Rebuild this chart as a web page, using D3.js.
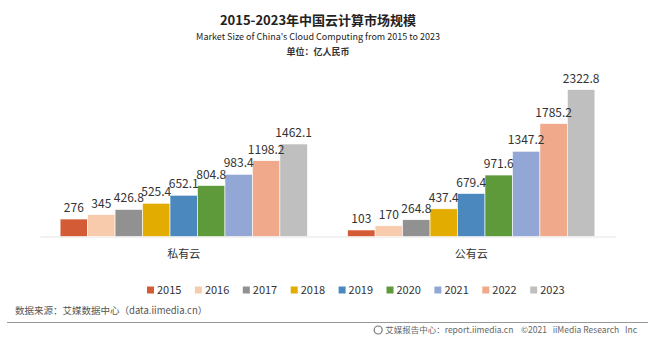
<!DOCTYPE html>
<html>
<head>
<meta charset="utf-8">
<script src="https://cdn.jsdelivr.net/npm/d3@7"></script>
<style>
  body { margin: 0; background: #fff; }
  svg { display: block; font-family: "Noto Sans CJK SC", "Noto Sans", sans-serif; }
</style>
</head>
<body>
<div id="chart"></div>
<script>
// chart data
var categories = ["私有云", "公有云"];
var years = ["2015", "2016", "2017", "2018", "2019", "2020", "2021", "2022", "2023"];
var privateCloud = [276, 345, 426.8, 525.4, 652.1, 804.8, 983.4, 1198.2, 1462.1];
var publicCloud = [103, 170, 264.8, 437.4, 679.4, 971.6, 1347.2, 1785.2, 2322.8];
var yearColors = ["#d35b35", "#f8cbad", "#919191", "#e2ac00", "#4a88be", "#5f9a3a", "#93a7d6", "#f0a98a", "#bfbfbf"];

var seriesByCat = { "私有云": privateCloud, "公有云": publicCloud };

var width = 651, height = 339;
var svg = d3.select("#chart").append("svg").attr("width", width).attr("height", height);

// titles
svg.append("text").attr("x", 318).attr("y", 25).attr("text-anchor", "middle")
  .attr("font-size", 13).attr("font-weight", "bold").attr("fill", "#222")
  .text("2015-2023年中国云计算市场规模");
svg.append("text").attr("x", 318).attr("y", 40).attr("text-anchor", "middle")
  .attr("font-size", 9).attr("fill", "#222")
  .text("Market Size of China's Cloud Computing from 2015 to 2023");
svg.append("text").attr("x", 318).attr("y", 55).attr("text-anchor", "middle")
  .attr("font-size", 9).attr("font-weight", "bold").attr("fill", "#333")
  .text("单位：亿人民币");

// scales
var x0 = d3.scaleBand().domain(categories).range([40, 615]).paddingInner(0.14).paddingOuter(0.07);
var x1 = d3.scaleBand().domain(years).range([0, x0.bandwidth()]).padding(0);
var y = d3.scaleLinear().domain([0, 2790]).range([236.5, 60]);
var color = d3.scaleOrdinal().domain(years).range(yearColors);

// baseline axis
var xAxis = svg.append("g").attr("transform", "translate(0," + y(0) + ")")
  .call(d3.axisBottom(x0).tickSize(0).tickPadding(14));
xAxis.select(".domain").attr("stroke", "#e3e3e3");
xAxis.selectAll("text").attr("font-size", 11).attr("fill", "#333")
  .attr("font-family", "Noto Sans CJK SC");

var groups = svg.selectAll("g.grp").data(categories).enter().append("g")
  .attr("class", "grp")
  .attr("transform", function (c) { return "translate(" + x0(c) + ",0)"; });

groups.selectAll("rect").data(function (c) {
  return years.map(function (yr, i) { return { year: yr, value: seriesByCat[c][i] }; });
}).enter().append("rect")
  .attr("x", function (d) { return x1(d.year); })
  .attr("y", function (d) { return y(d.value); })
  .attr("width", x1.bandwidth())
  .attr("height", function (d) { return y(0) - y(d.value); })
  .attr("fill", function (d) { return color(d.year); })
  .attr("stroke", "#fff").attr("stroke-width", 0.6);

groups.selectAll("text.val").data(function (c) {
  return years.map(function (yr, i) { return { year: yr, value: seriesByCat[c][i] }; });
}).enter().append("text")
  .attr("class", "val")
  .attr("x", function (d) { return x1(d.year) + x1.bandwidth() / 2; })
  .attr("y", function (d) { return y(d.value) - 7; })
  .attr("text-anchor", "middle").attr("font-size", 12).attr("fill", "#333")
  .text(function (d) { return d.value; });

// legend
var legend = svg.append("g").attr("transform", "translate(147,290)");
var item = legend.selectAll("g").data(years).enter().append("g")
  .attr("transform", function (d, i) { return "translate(" + (i * 47.9) + ",0)"; });
item.append("rect").attr("x", 0).attr("y", -3.5).attr("width", 7).attr("height", 7)
  .attr("fill", function (d) { return color(d); });
item.append("text").attr("x", 10).attr("y", 4).attr("font-size", 11).attr("fill", "#333")
  .text(function (d) { return d; });

// footer
svg.append("text").attr("x", 15).attr("y", 314).attr("font-size", 9.5).attr("fill", "#555")
  .text("数据来源：艾媒数据中心（data.iimedia.cn）");
svg.append("line").attr("x1", 7).attr("x2", 648).attr("y1", 322.5).attr("y2", 322.5)
  .attr("stroke", "#999").attr("stroke-width", 1);
var credit = svg.append("text").attr("x", 637).attr("y", 333).attr("text-anchor", "end")
  .attr("font-size", 8.5).attr("fill", "#666").style("white-space", "pre")
  .text("艾媒报告中心：report.iimedia.cn    ©2021   iiMedia Research   Inc");
var creditW = credit.node().getComputedTextLength();
svg.append("circle").attr("cx", 637 - creditW - 7).attr("cy", 330).attr("r", 4)
  .attr("fill", "none").attr("stroke", "#777").attr("stroke-width", 1.2);
</script>
</body>
</html>
